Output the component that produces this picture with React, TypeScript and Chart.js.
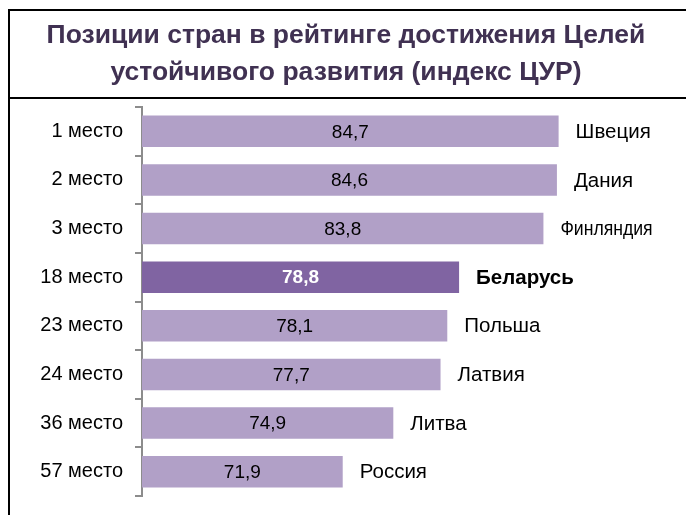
import React, { useEffect, useRef } from "react";
import { Chart, registerables } from "chart.js";

Chart.register(...registerables);

const titleLines = ["Позиции стран в рейтинге достижения Целей", "устойчивого развития (индекс ЦУР)"];
const places = ["1 место", "2 место", "3 место", "18 место", "23 место", "24 место", "36 место", "57 место"];
const countries = ["Швеция", "Дания", "Финляндия", "Беларусь", "Польша", "Латвия", "Литва", "Россия"];
const scores = [84.7, 84.6, 83.8, 78.8, 78.1, 77.7, 74.9, 71.9];
const highlightIndex = 3;
const condensedIndex = 2;
const axisMin = 60;
const axisMax = 90;

const LIGHT = "#b1a0c7";
const DARK = "#8064a2";
const FONT = "Arial, 'Liberation Sans', sans-serif";

const framePlugin = {
  id: "frame",
  afterDraw(chart: any) {
    const ctx = chart.ctx;
    const W = chart.width;
    const H = chart.height;
    ctx.save();
    ctx.strokeStyle = "#000";
    ctx.lineWidth = 2;
    ctx.beginPath();
    ctx.moveTo(8, 10);
    ctx.lineTo(W, 10);
    ctx.moveTo(8, 98);
    ctx.lineTo(W, 98);
    ctx.moveTo(9, 9);
    ctx.lineTo(9, H);
    ctx.stroke();
    ctx.fillStyle = "#403152";
    ctx.font = `bold 26.5px ${FONT}`;
    ctx.textAlign = "center";
    ctx.textBaseline = "middle";
    ctx.fillText(titleLines[0], 346, 36);
    ctx.fillText(titleLines[1], 346, 73);
    ctx.restore();
  },
};

const labelPlugin = {
  id: "barLabels",
  afterDatasetsDraw(chart: any) {
    const ctx = chart.ctx;
    const meta = chart.getDatasetMeta(0);
    const xScale = chart.scales.x;
    const basePx = xScale.getPixelForValue(axisMin);
    ctx.save();
    ctx.textBaseline = "middle";
    meta.data.forEach((bar: any, i: number) => {
      const hl = i === highlightIndex;
      const endPx = xScale.getPixelForValue(scores[i]);
      const y = bar.y + 1;
      const val = scores[i].toFixed(1).replace(".", ",");
      ctx.font = `${hl ? "bold " : ""}19px ${FONT}`;
      ctx.fillStyle = hl ? "#ffffff" : "#000000";
      ctx.textAlign = "center";
      ctx.fillText(val, (basePx + endPx) / 2, y);
      ctx.fillStyle = "#000000";
      ctx.textAlign = "left";
      ctx.font = `${hl ? "bold " : ""}20.5px ${FONT}`;
      if (i === condensedIndex) {
        ctx.save();
        ctx.translate(endPx + 17, y);
        ctx.scale(0.86, 1);
        ctx.fillText(countries[i], 0, 0);
        ctx.restore();
      } else {
        ctx.fillText(countries[i], endPx + 17, y);
      }
    });
    ctx.restore();
  },
};

export default function App() {
  const ref = useRef<HTMLCanvasElement>(null);
  useEffect(() => {
    if (!ref.current) return;
    const chart = new Chart(ref.current, {
      type: "bar",
      data: {
        labels: places,
        datasets: [
          {
            data: scores,
            backgroundColor: scores.map((_, i) => (i === highlightIndex ? DARK : LIGHT)),
            borderWidth: 0,
            categoryPercentage: 1,
            barPercentage: 0.65,
          },
        ],
      },
      options: {
        indexAxis: "y",
        animation: false,
        responsive: false,
        maintainAspectRatio: false,
        devicePixelRatio: 1,
        layout: { padding: { top: 107, bottom: 19, right: 38, left: 0 } },
        plugins: { legend: { display: false }, tooltip: { enabled: false }, title: { display: false } },
        scales: {
          x: { display: false, min: axisMin, max: axisMax },
          y: {
            afterFit(scale: any) {
              scale.width = 142;
              scale.paddingTop = 0;
              scale.paddingBottom = 0;
            },
            grid: {
              display: true,
              drawOnChartArea: false,
              drawTicks: true,
              tickLength: 7,
              color: "#8c8c8c",
              lineWidth: 2,
              offset: true,
            },
            border: { display: true, color: "#8c8c8c", width: 2 },
            ticks: { color: "#000", font: { family: FONT, size: 20 }, padding: 12 },
          },
        },
      },
      plugins: [framePlugin, labelPlugin],
    });
    return () => chart.destroy();
  }, []);
  return (
    <div style={{ position: "fixed", left: 0, top: 0, width: 686, height: 515, background: "#fff" }}>
      <canvas ref={ref} width={686} height={515} style={{ width: 686, height: 515, display: "block" }} />
    </div>
  );
}
